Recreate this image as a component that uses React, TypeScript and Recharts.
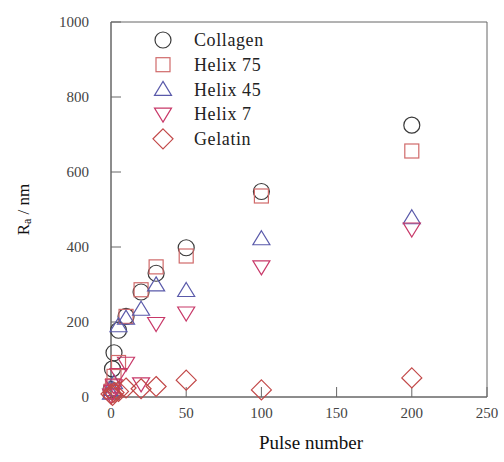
import React from 'react';
import { ScatterChart, Scatter, XAxis, YAxis, Legend, ReferenceArea } from 'recharts';

const pulses = [0, 1, 2, 5, 10, 20, 30, 50, 100, 200];
const collagen = [20, 75, 118, 178, 215, 280, 330, 398, 548, 725];
const helix75 = [15, 30, 55, 92, 215, 286, 347, 376, 536, 656];
const helix45 = [10, 20, 38, 190, 210, 234, 299, 284, 422, 478];
const helix7 = [5, 15, 30, 60, 90, 35, 196, 224, 347, 448];
const gelatin = [8, 4, 12, 15, 24, 22, 28, 45, 19, 51];

const xTicks = [0, 50, 100, 150, 200, 250];
const yTicks = [0, 200, 400, 600, 800, 1000];

const FONT = '"Liberation Serif", "DejaVu Serif", serif';

type Kind = 'circle' | 'square' | 'up' | 'down' | 'diamond';

const seriesList: { name: string; values: number[]; kind: Kind; color: string }[] = [
  { name: 'Collagen', values: collagen, kind: 'circle', color: '#3a3a3a' },
  { name: 'Helix 75', values: helix75, kind: 'square', color: '#d06a6a' },
  { name: 'Helix 45', values: helix45, kind: 'up', color: '#5a5aaa' },
  { name: 'Helix 7', values: helix7, kind: 'down', color: '#c83868' },
  { name: 'Gelatin', values: gelatin, kind: 'diamond', color: '#c24848' },
];

const toPoints = (values: number[]) => pulses.map((p, i) => ({ x: p, y: values[i] }));

function Marker({ cx, cy, kind, color }: { cx: number; cy: number; kind: Kind; color: string }) {
  const common = { fill: 'none', stroke: color, strokeWidth: 1.2 };
  if (kind === 'circle') return <circle cx={cx} cy={cy} r={8} {...common} />;
  if (kind === 'square') return <rect x={cx - 7} y={cy - 7} width={14} height={14} {...common} />;
  if (kind === 'up')
    return <polygon points={`${cx},${cy - 8} ${cx + 8.5},${cy + 6} ${cx - 8.5},${cy + 6}`} {...common} />;
  if (kind === 'down')
    return <polygon points={`${cx},${cy + 8} ${cx + 8.5},${cy - 6} ${cx - 8.5},${cy - 6}`} {...common} />;
  return <polygon points={`${cx},${cy - 10} ${cx + 10},${cy} ${cx},${cy + 10} ${cx - 10},${cy}`} {...common} />;
}

const LegendBox = () => (
  <svg width={150} height={130} style={{ display: 'block' }}>
    {seriesList.map((s, i) => (
      <g key={s.name}>
        <Marker cx={13} cy={12 + i * 24.7} kind={s.kind} color={s.color} />
        <text x={44} y={12 + i * 24.7} dy="0.35em" fontSize={18} letterSpacing={0.6} fontFamily={FONT} fill="#222">
          {s.name}
        </text>
      </g>
    ))}
  </svg>
);

const YLabel = ({ viewBox }: any) => {
  const x = 23;
  const y = viewBox.y + viewBox.height / 2;
  return (
    <text x={x} y={y} transform={`rotate(-90 ${x} ${y})`} textAnchor="middle" dominantBaseline="central" fontSize={17} fontFamily={FONT} fill="#111">
      R<tspan fontSize={12} dy={4}>a</tspan>
      <tspan dy={-4}> / nm</tspan>
    </text>
  );
};

export default function App() {
  const tickStyle = { fontSize: 15, fontFamily: FONT, fill: '#444' };
  return (
    <div style={{ position: 'absolute', left: 0, top: 0, width: 504, height: 462, background: '#fff' }}>
      <ScatterChart width={504} height={462} margin={{ top: 22, right: 17, left: 0, bottom: 0 }}>
        <XAxis
          type="number"
          dataKey="x"
          domain={[0, 250]}
          ticks={xTicks}
          height={65}
          tickSize={-10}
          tickMargin={20}
          tick={tickStyle}
          stroke="#666"
          label={{ value: 'Pulse number', position: 'insideBottom', offset: 13, dx: 12, fontSize: 19, fontFamily: FONT, fill: '#111' }}
        />
        <YAxis
          type="number"
          dataKey="y"
          domain={[0, 1000]}
          ticks={yTicks}
          width={111}
          tickSize={-10}
          tickMargin={32}
          tick={tickStyle}
          stroke="#666"
          label={{ content: YLabel }}
        />
        <ReferenceArea x1={0} x2={250} y1={0} y2={1000} fill="none" stroke="#666" strokeWidth={1} ifOverflow="visible" />
        <Legend
          layout="vertical"
          verticalAlign="middle"
          align="center"
          content={LegendBox}
          wrapperStyle={{ left: 150, top: 28, width: 150, height: 130 }}
        />
        {seriesList.map((s) => (
          <Scatter
            key={s.name}
            name={s.name}
            data={toPoints(s.values)}
            isAnimationActive={false}
            shape={(p: any) => <Marker cx={p.cx} cy={p.cy} kind={s.kind} color={s.color} />}
          />
        ))}
      </ScatterChart>
    </div>
  );
}
